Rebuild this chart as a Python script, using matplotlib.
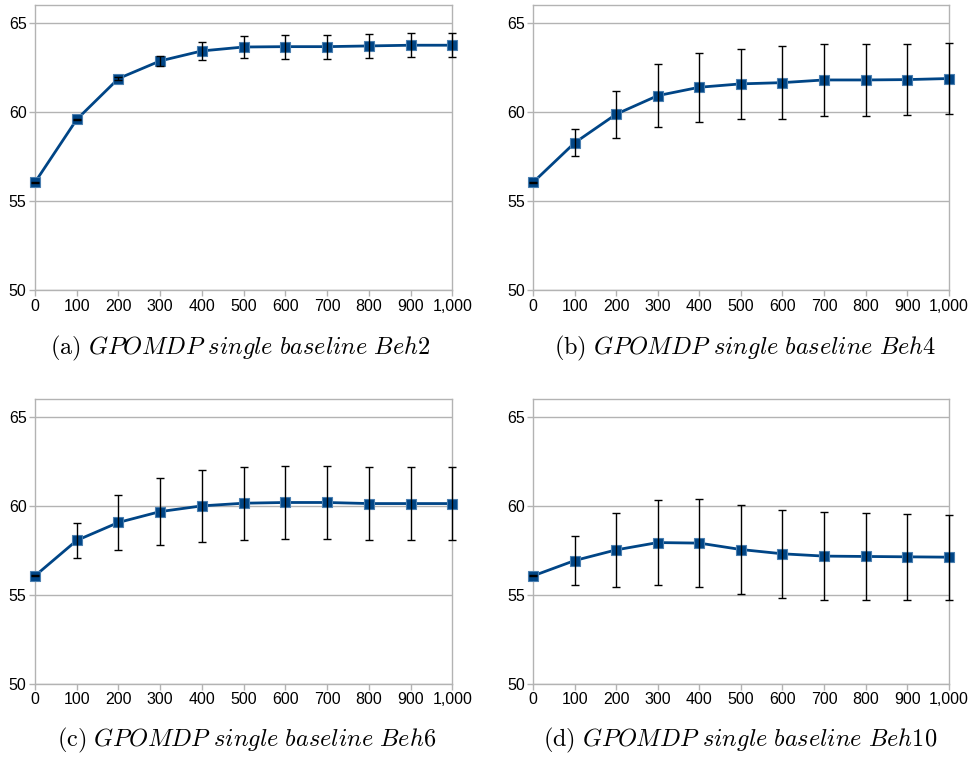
import numpy as np
import matplotlib.pyplot as plt
from matplotlib.ticker import FuncFormatter

plt.rcParams['font.family'] = ['Liberation Sans', 'DejaVu Sans']
plt.rcParams['mathtext.fontset'] = 'cm'

iterations = [0, 100, 200, 300, 400, 500, 600, 700, 800, 900, 1000]

# mean return and error bar half-width for each behaviour
beh2_mean = [56.06, 59.59, 61.89, 62.88, 63.44, 63.66, 63.68, 63.68, 63.72, 63.76, 63.76]
beh2_err = [0.03, 0.05, 0.1, 0.3, 0.49, 0.6, 0.67, 0.67, 0.68, 0.67, 0.67]

beh4_mean = [56.06, 58.28, 59.89, 60.93, 61.40, 61.59, 61.66, 61.81, 61.81, 61.83, 61.89]
beh4_err = [0.03, 0.76, 1.32, 1.75, 1.93, 1.98, 2.04, 2.0, 2.0, 1.98, 1.98]

beh6_mean = [56.07, 58.06, 59.07, 59.68, 60.0, 60.15, 60.19, 60.19, 60.13, 60.13, 60.13]
beh6_err = [0.03, 0.98, 1.52, 1.87, 2.03, 2.06, 2.06, 2.06, 2.07, 2.04, 2.03]

beh10_mean = [56.07, 56.93, 57.53, 57.94, 57.91, 57.55, 57.31, 57.18, 57.16, 57.14, 57.12]
beh10_err = [0.03, 1.38, 2.08, 2.37, 2.47, 2.48, 2.46, 2.45, 2.43, 2.40, 2.39]

captions = [
    r'$\mathrm{(a)}\ \mathit{GPOMDP\ single\ baseline\ Beh2}$',
    r'$\mathrm{(b)}\ \mathit{GPOMDP\ single\ baseline\ Beh4}$',
    r'$\mathrm{(c)}\ \mathit{GPOMDP\ single\ baseline\ Beh6}$',
    r'$\mathrm{(d)}\ \mathit{GPOMDP\ single\ baseline\ Beh10}$',
]

series = [(beh2_mean, beh2_err), (beh4_mean, beh4_err),
          (beh6_mean, beh6_err), (beh10_mean, beh10_err)]

# axes boxes in figure fractions (left, bottom, width, height)
boxes = [
    [0.036, 0.618, 0.430, 0.375],
    [0.549, 0.618, 0.428, 0.375],
    [0.036, 0.100, 0.430, 0.375],
    [0.549, 0.100, 0.428, 0.375],
]
caption_pos = [(0.247, 0.542), (0.767, 0.542), (0.254, 0.026), (0.762, 0.026)]

fig = plt.figure(figsize=(9.71, 7.6), dpi=100)
grid_col = '#b3b3b3'

for i, (mean, err) in enumerate(series):
    ax = fig.add_axes(boxes[i])
    ax.plot(iterations, mean, color='#004586', linewidth=2, marker='s',
            markersize=7, markerfacecolor='#004586',
            markeredgecolor='#4a7fb0', markeredgewidth=0.8, zorder=3,
            clip_on=False)
    eb = ax.errorbar(iterations, mean, yerr=err, fmt='none', ecolor='black',
                     elinewidth=1, capsize=3, capthick=1, zorder=4)
    for art in eb.lines[1] + eb.lines[2]:
        art.set_clip_on(False)

    ax.set_xlim(0, 1000)
    ax.set_ylim(50, 66)
    ax.set_xticks(iterations)
    ax.set_yticks([50, 55, 60, 65])
    ax.xaxis.set_major_formatter(FuncFormatter(lambda v, p: f'{int(v):,}'))
    ax.yaxis.grid(True, color=grid_col, linewidth=1)
    ax.set_axisbelow(True)
    for s in ax.spines.values():
        s.set_color(grid_col)
        s.set_linewidth(1)
    ax.tick_params(axis='both', colors=grid_col, labelcolor='black',
                   labelsize=11.5, length=4, width=1, direction='out', pad=2)

    fig.text(caption_pos[i][0], caption_pos[i][1], captions[i],
             ha='center', va='center', fontsize=17.5)

fig.savefig('out.png', dpi=100)
